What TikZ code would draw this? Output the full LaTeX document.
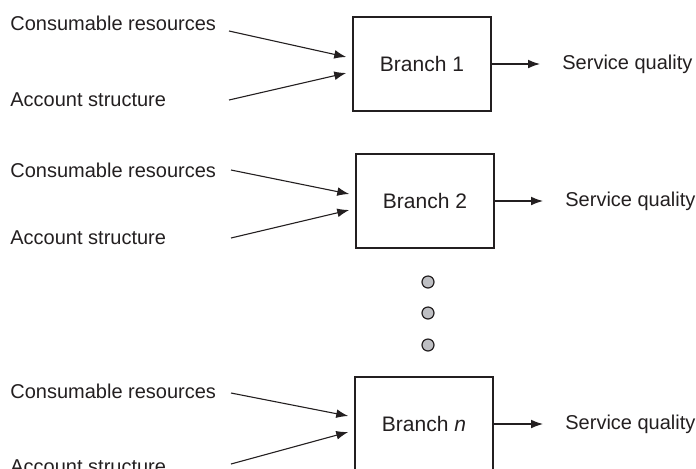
\documentclass[tikz,border=0pt]{standalone}
\usepackage{fontspec}
\setmainfont{Liberation Sans}
\usetikzlibrary{arrows.meta}

\definecolor{inkgray}{RGB}{35,31,32}
\definecolor{dotgray}{RGB}{190,191,195}

\begin{document}
\begin{tikzpicture}[x=0.5pt,y=-0.5pt,font=\fontsize{10}{12}\selectfont,color=inkgray,
    branchbox/.style={draw,line width=0.75pt,minimum width=69pt,minimum height=47pt,font=\fontsize{10.5}{12}\selectfont},
    inlabel/.style={anchor=west,inner sep=0pt},
    flow/.style={-{Latex[length=6pt,width=4.4pt]},line width=0.55pt}]
    \useasboundingbox (0,0) rectangle (696,468);

    % first branch
    \node[branchbox] (b1) at (422,64) {Branch 1};
    \node[inlabel] (r1) at (10,23) {Consumable resources};
    \node[inlabel] (a1) at (10,100) {Account structure};
    \node[inlabel] (q1) at (562,64) {Service quality};
    \coordinate (r1e) at (229,31);
    \coordinate (a1e) at (229,100);
    \draw[flow] (r1e) -- ([shift={(-6,-7)}]b1.west);
    \draw[flow] (a1e) -- ([shift={(-6,9)}]b1.west);
    \draw[flow,shorten >=11pt] (b1) -- (q1);

    % second branch
    \node[branchbox] (b2) at (425,201) {Branch 2};
    \node[inlabel] (r2) at (10,170) {Consumable resources};
    \node[inlabel] (a2) at (10,238) {Account structure};
    \node[inlabel] (q2) at (565,201) {Service quality};
    \coordinate (r2e) at (231,170);
    \coordinate (a2e) at (231,238);
    \draw[flow] (r2e) -- ([shift={(-6,-7)}]b2.west);
    \draw[flow] (a2e) -- ([shift={(-6,9)}]b2.west);
    \draw[flow,shorten >=11pt] (b2) -- (q2);

    % dots between
    \foreach \dy in {282,313,345}
        \filldraw[fill=dotgray,draw=inkgray,line width=0.6pt] (428,\dy) circle[radius=3pt];

    % last branch, runs off the bottom
    \node[branchbox] (bn) at (424,424) {Branch \textit{n}};
    \node[inlabel] (rn) at (10,391) {Consumable resources};
    \node[inlabel] (an) at (10,467) {Account structure};
    \node[inlabel] (qn) at (565,424) {Service quality};
    \coordinate (rne) at (231,393);
    \coordinate (ane) at (231,464);
    \draw[flow] (rne) -- ([shift={(-6,-8)}]bn.west);
    \draw[flow] (ane) -- ([shift={(-6,8)}]bn.west);
    \draw[flow,shorten >=11pt] (bn) -- (qn);
\end{tikzpicture}
\end{document}
